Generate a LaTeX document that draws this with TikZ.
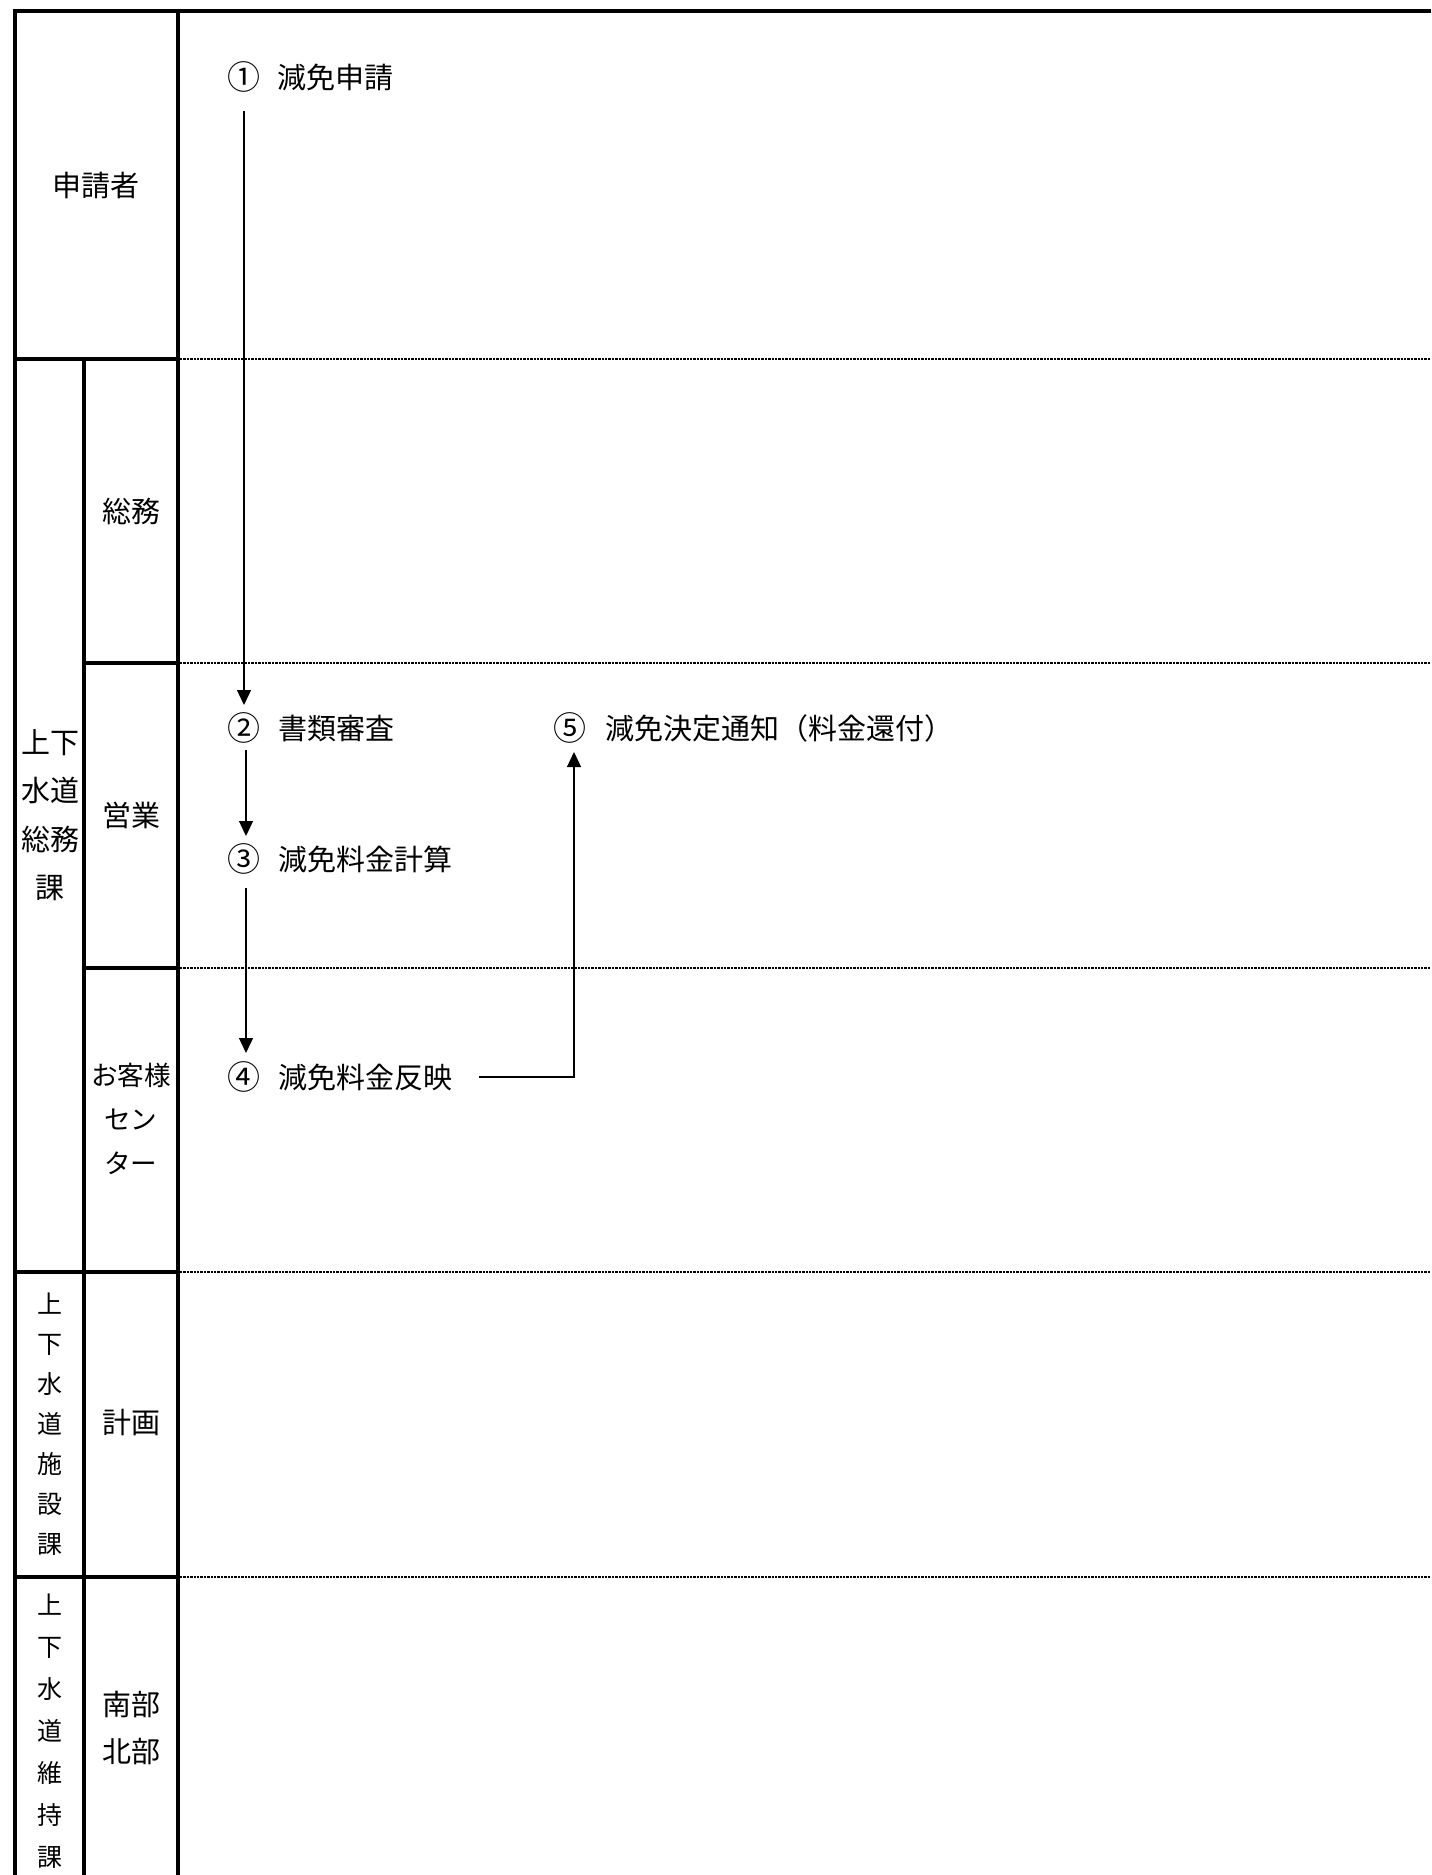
\documentclass[tikz,border=0pt]{standalone}
\usepackage{fontspec}
\setmainfont{Noto Sans CJK JP}
\usetikzlibrary{arrows.meta,calc}
\begin{document}
\begin{tikzpicture}[x=0.5pt,y=-0.5pt,
  frame/.style={line width=1.6pt},
  sepline/.style={line width=1.4pt, dash pattern=on 1.2pt off 0.5pt},
  lbl/.style={inner sep=0pt, align=center, font=\fontsize{14.5pt}{24.25pt}\selectfont},
  smalllbl/.style={inner sep=0pt, align=center, font=\fontsize{12.5pt}{20pt}\selectfont},
  num/.style={inner sep=0pt, font=\fontsize{16.5pt}{18pt}\selectfont},
  steptext/.style={inner sep=0pt, anchor=west, font=\fontsize{14.5pt}{17pt}\selectfont},
  flow/.style={line width=0.65pt, -{Triangle[width=7pt,length=7.5pt]}}]
\useasboundingbox (0,0) rectangle (1431,1875);
% frame
\draw[frame] (15,1875) -- (15,11) -- (1431,11);
\draw[frame] (178,11) -- (178,1875);
\draw[frame] (84,359) -- (84,1875);
\draw[frame] (15,359) -- (178,359);
\draw[frame] (84,663) -- (178,663);
\draw[frame] (84,968) -- (178,968);
\draw[frame] (15,1272) -- (178,1272);
\draw[frame] (15,1577) -- (178,1577);
% dotted lane separators
\foreach \yy in {359,663,968,1272,1577}
  \draw[sepline] (180,\yy) -- (1431,\yy);
% lane labels
\node[lbl] (applicant) at (96.5,185) {申請者};
\node[lbl] (soumuka) at (50,815) {上下\\水道\\総務\\課};
\node[lbl] (soumu) at (131,511) {総務};
\node[lbl] (eigyo) at (131,815) {営業};
\node[inner sep=0pt, align=center, font=\fontsize{13.3pt}{22pt}\selectfont] (okyaku) at (131,1119) {お客様\\セン\\ター};
\node[smalllbl] (shisetsuka) at (50,1424) {上\\下\\水\\道\\施\\設\\課};
\node[lbl] (keikaku) at (131,1423) {計画};
\node[smalllbl, font=\fontsize{12.5pt}{21pt}\selectfont] (ijika) at (50,1731) {上\\下\\水\\道\\維\\持\\課};
\node[lbl, font=\fontsize{14.5pt}{23.5pt}\selectfont] (nanbu) at (131,1728) {南部\\北部};
% steps
\node[num] (n1) at (244,77) {①};
\node[steptext] (t1) at (277,77) {減免申請};
\node[num] (n2) at (244,728) {②};
\node[steptext] (t2) at (278,728) {書類審査};
\node[num] (n3) at (244,859) {③};
\node[steptext] (t3) at (278,859) {減免料金計算};
\node[num] (n4) at (244,1077) {④};
\node[steptext] (t4) at (278,1077) {減免料金反映};
\node[num] (n5) at (570,728) {⑤};
\node[steptext] (t5) at (605,728) {減免決定通知（料金還付）};
% flow
\draw[flow] ($(n1.center)+(0,34)$) -- ($(n2.center)+(0,-23)$);
\draw[flow] ($(n2.center)+(2,22)$) -- ($(n3.center)+(2,-23)$);
\draw[flow] ($(n3.center)+(2,29)$) -- ($(n4.center)+(2,-24)$);
\draw[flow] ($(t4.east)+(26,0)$) -| ($(n5.center)+(4,24)$);
\end{tikzpicture}
\end{document}
